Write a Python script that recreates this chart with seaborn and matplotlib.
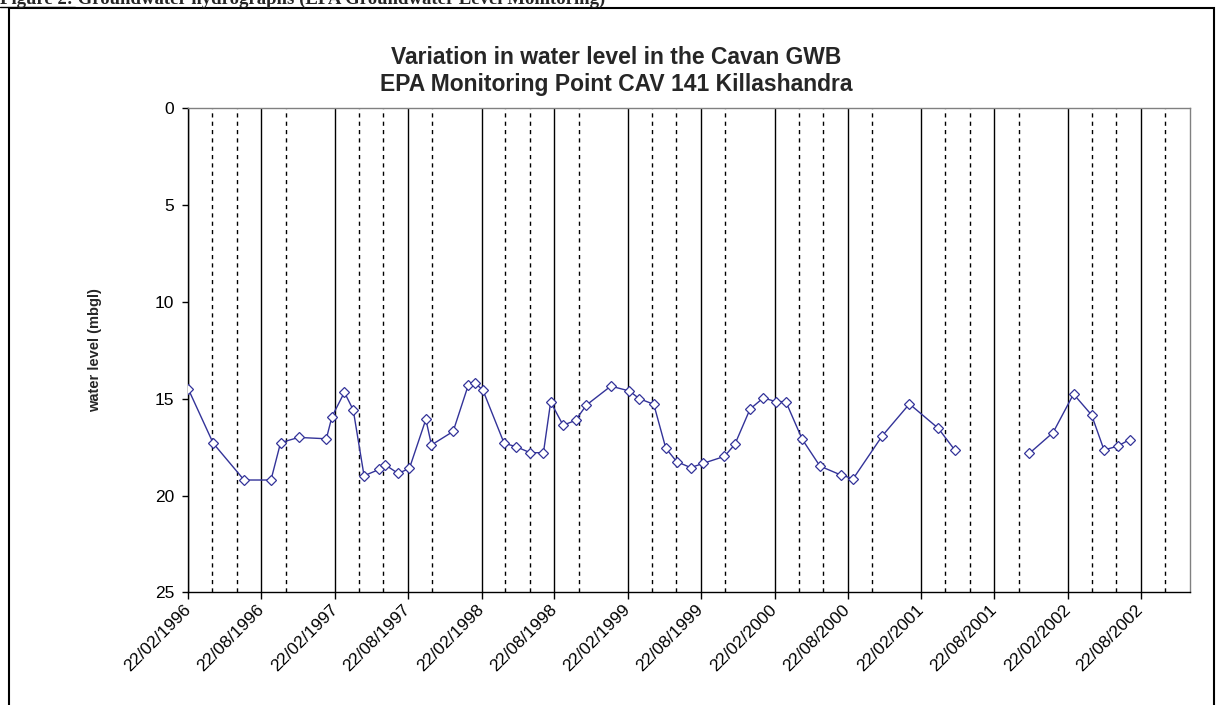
import pandas as pd
import matplotlib.pyplot as plt
import matplotlib.dates as mdates
from matplotlib.patches import Rectangle
from matplotlib.lines import Line2D
import seaborn as sns

# Style
sns.set_style('white')
plt.rcParams['font.family'] = ['Liberation Sans', 'DejaVu Sans']

# Data (date, water level in m below ground level)
dates = [
    '1996-02-22', '1996-04-24', '1996-07-10', '1996-09-15', '1996-10-09', '1996-11-23',
    '1997-01-31', '1997-02-14', '1997-03-17', '1997-04-08', '1997-05-05', '1997-06-12',
    '1997-06-27', '1997-07-29', '1997-08-26', '1997-10-06', '1997-10-20', '1997-12-13',
    '1998-01-20', '1998-02-05', '1998-02-25', '1998-04-19', '1998-05-19', '1998-06-23',
    '1998-07-26', '1998-08-13', '1998-09-13', '1998-10-14', '1998-11-10',
    '1999-01-10', '1999-02-25', '1999-03-22', '1999-04-27', '1999-05-27', '1999-06-23',
    '1999-07-28', '1999-08-28', '1999-10-20', '1999-11-15', '1999-12-23',
    '2000-01-25', '2000-02-25', '2000-03-21', '2000-05-01', '2000-06-14', '2000-08-05',
    '2000-09-05', '2000-11-16', '2001-01-23', '2001-04-05', '2001-05-16',
    '2001-11-18', '2002-01-16', '2002-03-08', '2002-04-22', '2002-05-23', '2002-06-26',
    '2002-07-26',
]
levels = [
    14.5, 17.3, 19.2, 19.2, 17.27, 17.0,
    17.07, 15.93, 14.67, 15.58, 18.98, 18.65,
    18.42, 18.86, 18.6, 16.07, 17.39, 16.69,
    14.28, 14.19, 14.55, 17.3, 17.48, 17.79,
    17.79, 15.17, 16.37, 16.12, 15.33,
    14.35, 14.6, 15.0, 15.29, 17.56, 18.25,
    18.56, 18.34, 17.98, 17.36, 15.53,
    14.96, 15.15, 15.15, 17.1, 18.48, 18.94,
    19.13, 16.93, 15.27, 16.53, 17.65,
    17.82, 16.75, 14.76, 15.84, 17.65, 17.45,
    17.11,
]
gap_date = '2001-08-01'   # no readings between mid and late 2001
x_start, x_end = '1996-02-22', '2002-12-22'
y_ticks = [0, 5, 10, 15, 20, 25]

caption = 'Figure 2: Groundwater hydrographs (EPA Groundwater Level Monitoring)'
title_1 = 'Variation in water level in the Cavan GWB'
title_2 = 'EPA Monitoring Point CAV 141 Killashandra'

df = pd.DataFrame({'date': pd.to_datetime(dates), 'level': levels})
df['segment'] = (df['date'] > gap_date).astype(int)

W, H = 1218, 705
fig = plt.figure(figsize=(W / 100, H / 100), dpi=100)
ax = fig.add_axes([188.3 / W, 1 - 592.3 / H, (1189.5 - 188.3) / W, (592.3 - 108.3) / H])

line_col = '#333399'
sns.lineplot(data=df, x='date', y='level', units='segment', estimator=None,
             color=line_col, linewidth=1, marker='D', markersize=5,
             markerfacecolor='white', markeredgecolor=line_col,
             markeredgewidth=0.9, legend=False, ax=ax, zorder=5)

# Axes
ax.set_xlim(pd.Timestamp(x_start), pd.Timestamp(x_end))
ax.set_ylim(25, 0)
ax.set_yticks(y_ticks)
ax.set_xlabel('')
ax.set_ylabel('water level (mbgl)', fontsize=10.5, fontweight='bold')
ax.yaxis.set_label_coords(-0.086, 0.5)

ax.xaxis.set_major_locator(mdates.MonthLocator(bymonth=[2, 8], bymonthday=22))
ax.xaxis.set_minor_locator(mdates.MonthLocator(bymonth=[4, 6, 10], bymonthday=22))
ax.xaxis.set_major_formatter(mdates.DateFormatter('%d/%m/%Y'))

ax.grid(which='major', axis='x', color='black', linewidth=1, linestyle='-')
ax.grid(which='minor', axis='x', color='black', linewidth=1, linestyle=(0, (3, 3)))

ax.tick_params(axis='x', which='major', bottom=True, direction='out', length=5,
               width=1, colors='black', labelsize=12.5, pad=6)
ax.tick_params(axis='x', which='minor', bottom=True, length=0)
ax.tick_params(axis='y', left=True, direction='out', length=4, width=1,
               colors='black', labelsize=12.5, pad=6)
for lbl in ax.get_xticklabels():
    lbl.set_rotation(45)
    lbl.set_ha('right')
    lbl.set_va('center')
    lbl.set_rotation_mode('anchor')

for side in ['left', 'bottom']:
    ax.spines[side].set_color('black')
    ax.spines[side].set_linewidth(1)
for side in ['top', 'right']:
    ax.spines[side].set_color('#808080')
    ax.spines[side].set_linewidth(1)

# Titles
fig.text(0.506, 1 - 58 / H, title_1, ha='center', va='center', fontsize=16.5, fontweight='bold')
fig.text(0.506, 1 - 84 / H, title_2, ha='center', va='center', fontsize=16.5, fontweight='bold')

# Document caption, cut off at the top edge as in the source page
fig.text(0.0, 1 - 4 / H, caption, ha='left', va='baseline', fontsize=13.5,
         fontweight='bold', family=['Liberation Serif', 'DejaVu Serif'])
fig.add_artist(Line2D([0, 75 / W], [1 - 6.5 / H, 1 - 6.5 / H], color='black',
                      linewidth=1, transform=fig.transFigure))

# Chart frame
fig.add_artist(Rectangle((8.5 / W, -0.05), (1214 - 8.5) / W, 1.05 - 7.5 / H,
                         fill=False, edgecolor='black', linewidth=1.5,
                         transform=fig.transFigure, clip_on=False))

fig.savefig('out.png', dpi=100)
